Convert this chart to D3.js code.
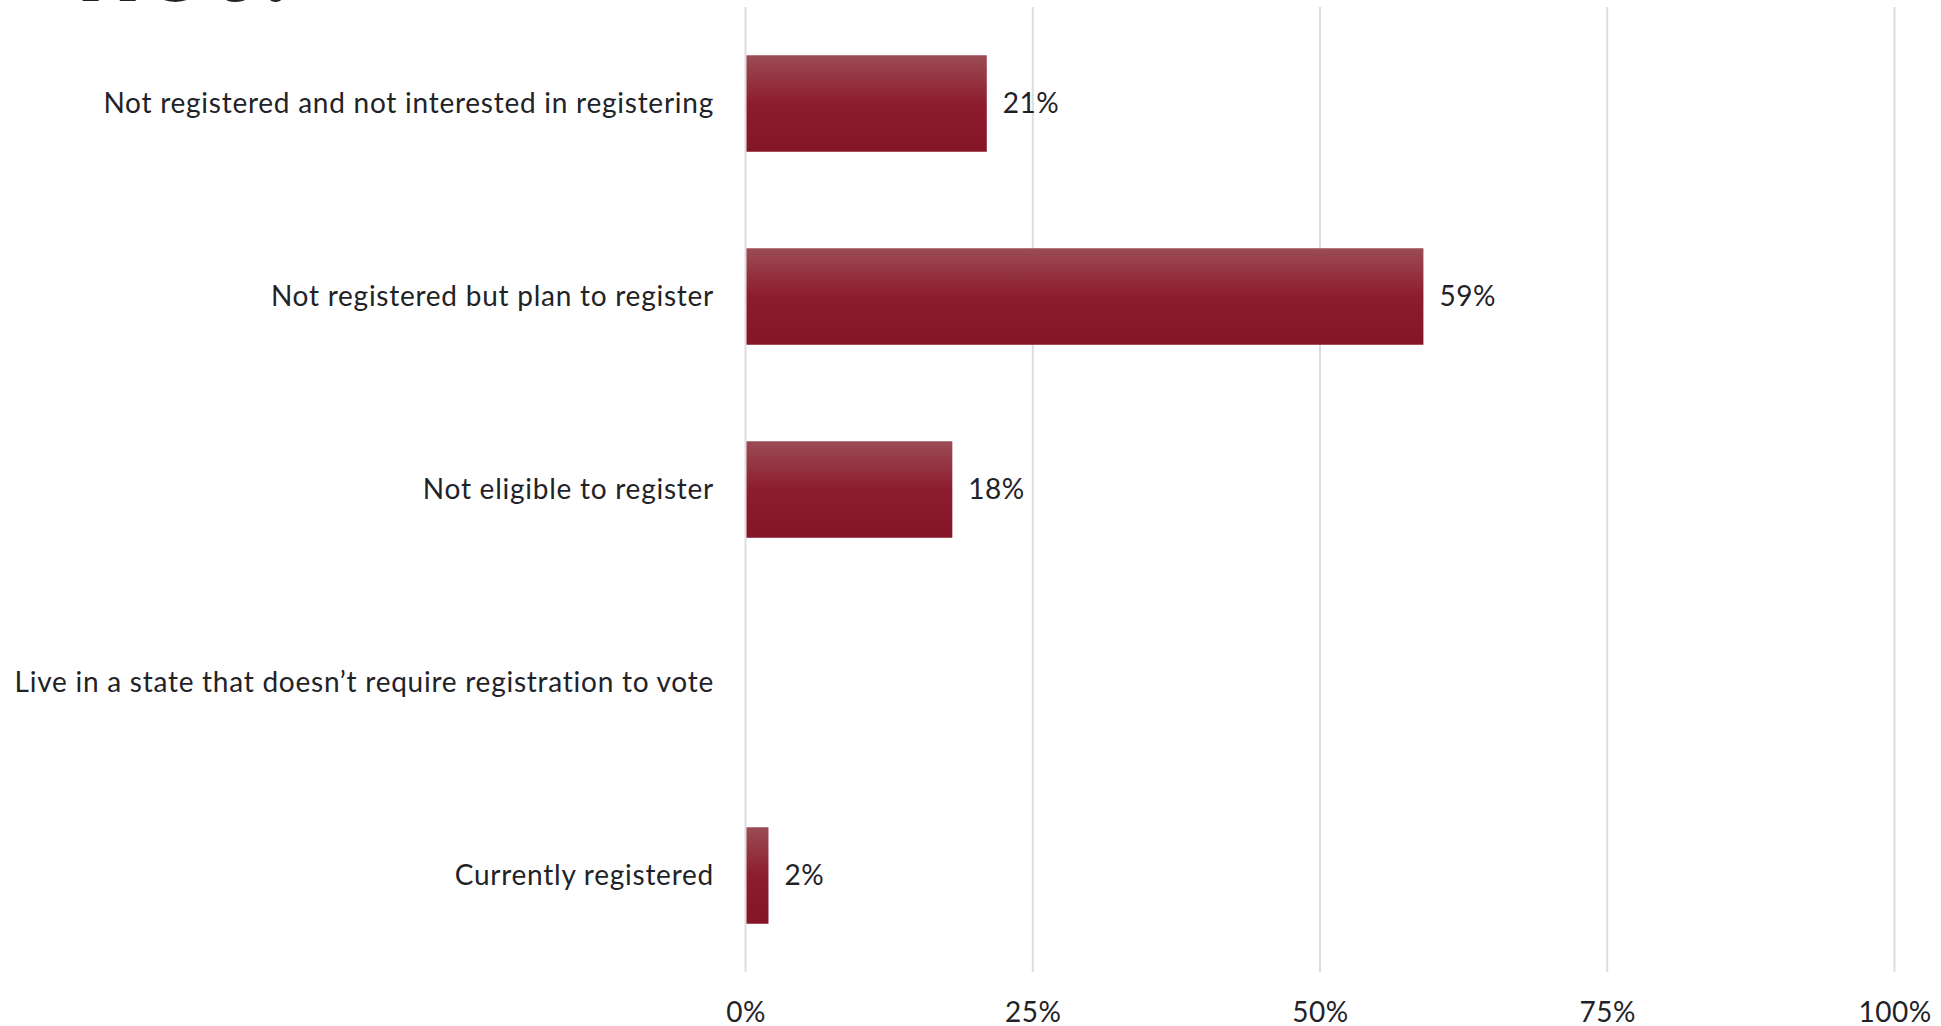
<!DOCTYPE html>
<html>
<head>
<meta charset="utf-8">
<script src="https://cdn.jsdelivr.net/npm/d3@7"></script>
<style>
  html, body { margin: 0; padding: 0; background: #ffffff; }
  svg { display: block; }
  text { font-family: Lato, "Open Sans", sans-serif; fill: #1f2328; }
</style>
</head>
<body>
<svg id="chart" width="1941" height="1026"></svg>
<script>
const titleText = "not?";
const categories = [
  "Not registered and not interested in registering",
  "Not registered but plan to register",
  "Not eligible to register",
  "Live in a state that doesn\u2019t require registration to vote",
  "Currently registered"
];
const values = [21, 59, 18, 0, 2];
const tickValues = [0, 25, 50, 75, 100];
const tickLabels = ["0%", "25%", "50%", "75%", "100%"];

const svg = d3.select("#chart");

const x = d3.scaleLinear().domain([0, 100]).range([745.5, 1894.5]);
const y = d3.scaleBand().domain(categories).range([7, 972]).paddingInner(0.5).paddingOuter(0.25);

const defs = svg.append("defs");
const grad = defs.append("linearGradient").attr("id", "barGrad")
  .attr("x1", 0).attr("y1", 0).attr("x2", 0).attr("y2", 1);
grad.append("stop").attr("offset", "0%").attr("stop-color", "#9b4c55");
grad.append("stop").attr("offset", "50%").attr("stop-color", "#8d1c2e");
grad.append("stop").attr("offset", "100%").attr("stop-color", "#851426");

// title remnant (cut off at the top edge, as in the reference)
svg.append("text")
  .attr("x", 76).attr("y", 1)
  .style("font-family", "Lato, 'Open Sans', sans-serif")
  .style("font-weight", 900)
  .style("font-size", "116px")
  .text(titleText);

// gridlines
svg.append("g").selectAll("line").data(tickValues).join("line")
  .attr("x1", d => x(d)).attr("x2", d => x(d))
  .attr("y1", 7).attr("y2", 972)
  .attr("stroke", "#dcdde2").attr("stroke-width", 2);

// x axis tick labels
const xAxis = d3.axisBottom(x).tickValues(tickValues)
  .tickFormat((d, i) => tickLabels[i]).tickSize(0).tickPadding(0);
const gx = svg.append("g").attr("transform", "translate(0,972)").call(xAxis);
gx.select(".domain").remove();
gx.selectAll("text")
  .attr("y", 50).attr("dy", null)
  .style("font-size", "28px")
  .style("letter-spacing", "0.5px")
  .style("font-family", "Lato, 'Open Sans', sans-serif")
  .attr("fill", "#1f2328");

// category labels
const yAxis = d3.axisLeft(y).tickSize(0).tickPadding(0);
const gy = svg.append("g").attr("transform", "translate(714,0)").call(yAxis);
gy.select(".domain").remove();
gy.selectAll("text")
  .attr("x", 0).attr("dy", "0.35em")
  .style("font-size", "28px")
  .style("letter-spacing", "0.75px")
  .style("font-family", "Lato, 'Open Sans', sans-serif")
  .attr("fill", "#1f2328");

// bars
const data = categories.map((c, i) => ({ c, v: values[i] }));
svg.append("g").selectAll("rect").data(data.filter(d => d.v > 0)).join("rect")
  .attr("x", x(0) + 1)
  .attr("y", d => y(d.c))
  .attr("width", d => x(d.v) - x(0) - 1)
  .attr("height", y.bandwidth())
  .attr("fill", "url(#barGrad)");

// value labels
svg.append("g").selectAll("text").data(data.filter(d => d.v > 0)).join("text")
  .attr("x", d => x(d.v) + 16)
  .attr("y", d => y(d.c) + y.bandwidth() / 2)
  .attr("dy", "0.35em")
  .style("font-size", "28px")
  .style("letter-spacing", "0.5px")
  .text(d => d.v + "%");
</script>
</body>
</html>
